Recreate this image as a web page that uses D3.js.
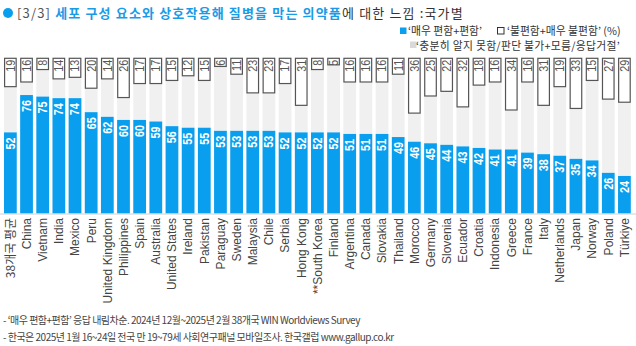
<!DOCTYPE html>
<html>
<head>
<meta charset="utf-8">
<script src="https://cdn.jsdelivr.net/npm/d3@7"></script>
<style>
  body { margin: 0; background: #fff; }
  svg { display: block; }
</style>
</head>
<body>
<div id="chart"></div>
<script>
var width = 636;
var height = 346;

// countries, sorted by favourable share
var countries = ['38개국 평균', 'China', 'Vietnam', 'India', 'Mexico', 'Peru', 'United Kingdom', 'Philippines',
  'Spain', 'Australia', 'United States', 'Ireland', 'Pakistan', 'Paraguay', 'Sweden', 'Malaysia', 'Chile',
  'Serbia', 'Hong Kong', '**South Korea', 'Finland', 'Argentina', 'Canada', 'Slovakia', 'Thailand', 'Morocco',
  'Germany', 'Slovenia', 'Ecuador', 'Croatia', 'Indonesia', 'Greece', 'France', 'Italy', 'Netherlands',
  'Japan', 'Norway', 'Poland', 'Türkiye'];

// '매우 편함+편함'
var comfortable = [52, 76, 75, 74, 74, 65, 62, 60, 60, 59, 56, 55, 55, 53, 53, 53, 53, 52, 52, 52, 52, 51,
  51, 51, 49, 46, 45, 44, 43, 42, 41, 41, 39, 38, 37, 35, 34, 26, 24];

// '불편함+매우 불편함'
var uncomfortable = [19, 16, 8, 14, 13, 20, 14, 26, 17, 17, 15, 12, 15, 6, 11, 23, 23, 17, 31, 8, 5, 16,
  16, 16, 11, 36, 25, 22, 32, 18, 16, 34, 16, 31, 19, 33, 15, 27, 29];

var blue = '#0a9fee';
var lightGrey = '#f0f0f0';
var boxStroke = '#555';

var rows = countries.map(function (c, i) {
  return { country: c, fav: comfortable[i], unfav: uncomfortable[i], dk: 100 - comfortable[i] - uncomfortable[i] };
});

var svg = d3.select('#chart').append('svg')
  .attr('width', width)
  .attr('height', height)
  .style('font-family', 'Liberation Sans, Arial, sans-serif');

var xScale = d3.scaleBand()
  .domain(countries)
  .range([0.6, 634.2])
  .padding(0.21);

var yScale = d3.scaleLinear()
  .domain([0, 100])
  .range([213.3, 57.7]);

// baseline
svg.append('line')
  .attr('x1', 0).attr('x2', width)
  .attr('y1', 214).attr('y2', 214)
  .attr('stroke', '#d0d0d0')
  .attr('stroke-width', 1);

var bars = svg.append('g').selectAll('g')
  .data(rows)
  .enter()
  .append('g');

// grey middle part: don't know / refused
bars.append('rect')
  .attr('x', d => xScale(d.country))
  .attr('width', xScale.bandwidth())
  .attr('y', d => yScale(d.fav + d.dk))
  .attr('height', d => yScale(d.fav) - yScale(d.fav + d.dk))
  .attr('fill', lightGrey);

// blue part: comfortable
bars.append('rect')
  .attr('x', d => xScale(d.country))
  .attr('width', xScale.bandwidth())
  .attr('y', d => yScale(d.fav))
  .attr('height', d => yScale(0) - yScale(d.fav))
  .attr('fill', blue);

// white boxed part on top: uncomfortable
bars.append('rect')
  .attr('x', d => xScale(d.country) + 0.6)
  .attr('width', xScale.bandwidth() - 1.2)
  .attr('y', d => yScale(100) + 0.6)
  .attr('height', d => yScale(100 - d.unfav) - yScale(100) - 1.2)
  .attr('fill', '#fff')
  .attr('stroke', boxStroke)
  .attr('stroke-width', 1.2);

// clip box labels to their box
var defs = svg.append('defs');
rows.forEach(function (d, i) {
  defs.append('clipPath').attr('id', 'clip' + i)
    .append('rect')
    .attr('x', xScale(d.country))
    .attr('width', xScale.bandwidth())
    .attr('y', yScale(100))
    .attr('height', yScale(100 - d.unfav) - yScale(100));
});

bars.append('g')
  .attr('clip-path', (d, i) => 'url(#clip' + i + ')')
  .append('text')
  .attr('transform', d => 'translate(' + (xScale(d.country) + xScale.bandwidth() / 2) + ',' + (yScale(100) + 2) + ') rotate(-90) scale(0.9,1)')
  .attr('text-anchor', 'end')
  .attr('dy', '0.36em')
  .style('font-size', '12px')
  .attr('fill', '#555')
  .text(d => d.unfav);

// value labels inside blue bars
bars.append('text')
  .attr('transform', d => 'translate(' + (xScale(d.country) + xScale.bandwidth() / 2) + ',' + (yScale(d.fav) + 5) + ') rotate(-90) scale(0.9,1)')
  .attr('text-anchor', 'end')
  .attr('dy', '0.36em')
  .style('font-size', '12px')
  .style('font-weight', 'bold')
  .attr('fill', '#fff')
  .text(d => d.fav);

// country labels
bars.append('text')
  .attr('transform', d => 'translate(' + (xScale(d.country) + xScale.bandwidth() / 2) + ',218) rotate(-90)')
  .attr('text-anchor', 'end')
  .attr('dy', '0.36em')
  .style('font-size', '12px')
  .style('font-family', d => /[가-힣]/.test(d.country) ? 'Noto Sans CJK KR' : null)
  .attr('fill', '#444')
  .text(d => d.country);

// title
svg.append('circle')
  .attr('cx', 8).attr('cy', 13).attr('r', 5)
  .attr('fill', blue);

var title = svg.append('text')
  .attr('x', 17).attr('y', 18)
  .style('font-family', 'Noto Sans CJK KR, sans-serif')
  .style('font-size', '13px')
  .style('letter-spacing', '1.15px');
title.append('tspan').attr('fill', '#555').text('[3/3] ');
title.append('tspan').attr('fill', '#1a9be6').style('font-weight', 'bold').text('세포 구성 요소와 상호작용해 질병을 막는 의약품');
title.append('tspan').attr('fill', '#333').text('에 대한 느낌 :국가별');

// legend
var legend = svg.append('g')
  .style('font-family', 'Noto Sans CJK KR, sans-serif')
  .style('font-size', '10.8px')
  .attr('fill', '#333');

legend.append('rect').attr('x', 400).attr('y', 27.5).attr('width', 6.5).attr('height', 6.5).attr('fill', blue);
legend.append('text').attr('x', 408).attr('y', 34.5).text('‘매우 편함+편함’');
legend.append('rect').attr('x', 497.5).attr('y', 27.5).attr('width', 6.5).attr('height', 6.5)
  .attr('fill', '#fff').attr('stroke', '#333').attr('stroke-width', 1);
legend.append('text').attr('x', 507).attr('y', 34.5).text('‘불편함+매우 불편함’ (%)');
legend.append('rect').attr('x', 410).attr('y', 41.5).attr('width', 6.5).attr('height', 6.5).attr('fill', '#d9d9d9');
legend.append('text').attr('x', 416).attr('y', 49.5).style('letter-spacing', '0.3px')
  .text('‘충분히 알지 못함/판단 불가+모름/응답거절’');

// footnotes
var notes = svg.append('g')
  .style('font-family', 'Noto Sans CJK KR, sans-serif')
  .style('font-size', '10px')
  .style('letter-spacing', '-0.5px')
  .attr('fill', '#444');
notes.append('text').attr('x', 3).attr('y', 324)
  .text('- ‘매우 편함+편함’ 응답 내림차순. 2024년 12월~2025년 2월 38개국 WIN Worldviews Survey');
notes.append('text').attr('x', 3).attr('y', 341)
  .text('- 한국은 2025년 1월 16~24일 전국 만 19~79세 사회연구패널 모바일조사. 한국갤럽 www.gallup.co.kr');
</script>
</body>
</html>
